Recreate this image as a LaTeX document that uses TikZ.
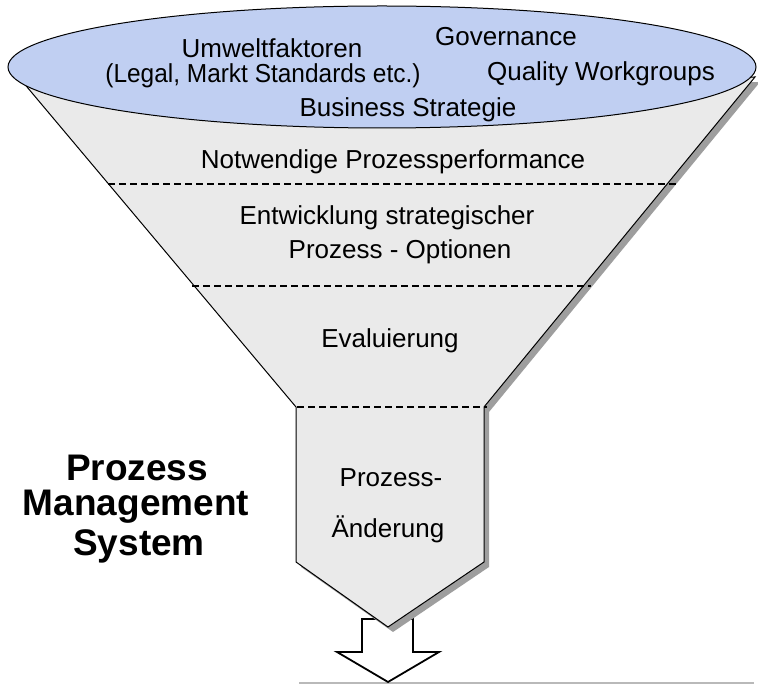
\documentclass[tikz,border=0pt]{standalone}
\usepackage{fontspec}
\setmainfont{Liberation Sans}
\definecolor{ellblue}{RGB}{192,207,242}
\definecolor{funnelgray}{RGB}{234,234,234}
\definecolor{shadowgray}{RGB}{158,158,158}
\tikzset{
  txt/.style={font=\fontsize{26}{30}\selectfont, inner sep=0pt, anchor=center},
  boldtxt/.style={font=\fontsize{37}{42}\selectfont\bfseries, inner sep=0pt, anchor=center},
  sepline/.style={dash pattern=on 7pt off 4pt, line width=1.6pt},
  outline/.style={draw=black, line width=1pt},
  sh/.style={shift={(5,5)}}
}
\begin{document}
\begin{tikzpicture}[x=1pt,y=-1pt]
\useasboundingbox (0,0) rectangle (758,684);
% key points
\coordinate (tl) at (22,81);
\coordinate (bl) at (296,407);
\coordinate (pl) at (296,562);
\coordinate (tip) at (388,627);
\coordinate (pr) at (484,562);
\coordinate (br) at (484,407);
\coordinate (tr) at (755,77);
% bottom line
\coordinate (g1) at (299,683);
\coordinate (g2) at (754,683);
\draw[gray!55, line width=1.6pt] (g1) -- (g2);
% arrow
\coordinate (a1) at (362,619);
\coordinate (a2) at (413,619);
\coordinate (a3) at (413,652);
\coordinate (a4) at (439,652);
\coordinate (a5) at (388,682);
\coordinate (a6) at (337,652);
\coordinate (a7) at (362,652);
\draw[fill=white, line width=1.8pt, line join=miter] (a1) -- (a2) -- (a3) -- (a4) -- (a5) -- (a6) -- (a7) -- cycle;
% shadow
\fill[shadowgray] ([sh]tl) -- ([sh]bl) -- ([sh]pl) -- ([sh]tip) -- ([sh]pr) -- ([sh]br) -- ([sh]tr) -- cycle;
% funnel
\draw[outline, fill=funnelgray] (tl) -- (bl) -- (pl) -- (tip) -- (pr) -- (br) -- (tr) -- cycle;
% dashed separators
\coordinate (d1l) at (108,184); \coordinate (d1r) at (677,184);
\coordinate (d2l) at (192,286); \coordinate (d2r) at (591,286);
\coordinate (d3l) at (297,407); \coordinate (d3r) at (487,407);
\draw[sepline] (d1l) -- (d1r);
\draw[sepline] (d2l) -- (d2r);
\draw[sepline] (d3l) -- (d3r);
% ellipse
\draw[outline, fill=ellblue] (382,67) ellipse [x radius=374, y radius=61];
% texts
\node[txt] (t1) at (272,48) {Umweltfaktoren};
\node[txt, xscale=0.94] (t2) at (263,76) {(Legal, Markt Standards etc.)};
\node[txt] (t3) at (506,37) {Governance};
\node[txt] (t4) at (601,74) {Quality Workgroups};
\node[txt] (t5) at (408,110) {Business Strategie};
\node[txt] (t6) at (393,162) {Notwendige Prozessperformance};
\node[txt] (t7) at (387,218) {Entwicklung strategischer};
\node[txt] (t8) at (400,252) {Prozess - Optionen};
\node[txt] (t9) at (390,341) {Evaluierung};
\node[txt] (t10) at (391,478) {Prozess-};
\node[txt] (t11) at (388,529) {Änderung};
\node[boldtxt] (b1) at (137,468) {Prozess};
\node[boldtxt] (b2) at (136,507) {Management};
\node[boldtxt] (b3) at (139,546) {System};
\end{tikzpicture}
\end{document}
